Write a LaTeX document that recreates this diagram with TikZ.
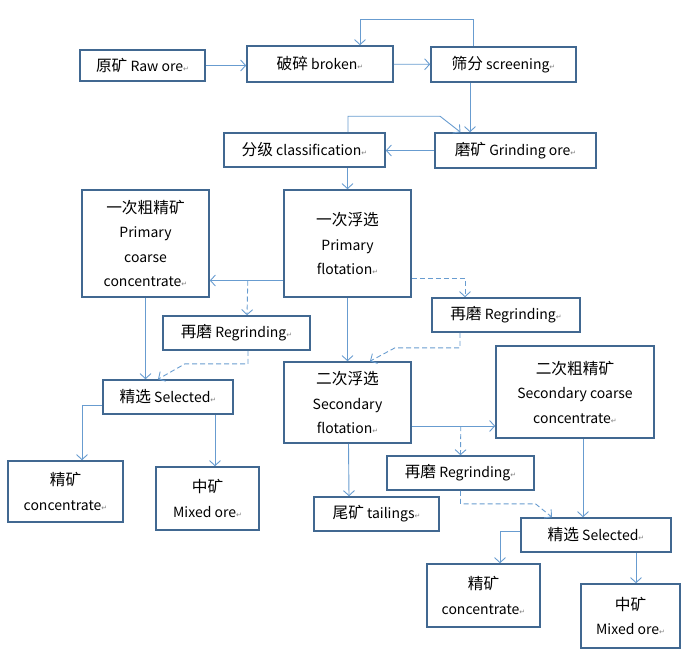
\documentclass[tikz,border=0pt]{standalone}
\usepackage{fontspec}
\setmainfont{Noto Sans CJK SC}
\newfontfamily\zhfont{Noto Sans CJK SC}[Scale=1.12]
\newfontfamily\symfont{DejaVu Sans}
\usepackage{xcolor}
\usetikzlibrary{positioning,calc,arrows.meta}
\definecolor{boxline}{RGB}{65,104,145}
\definecolor{flowline}{RGB}{104,156,208}
\newcommand{\zh}[1]{{\zhfont #1}}
\newcommand{\pmark}{{\symfont\fontsize{7}{7}\selectfont\color{gray}↵}}

\begin{document}
\begin{tikzpicture}[x=1pt,y=-1pt,
	box/.style={draw=boxline,line width=1.6pt,inner sep=2pt,align=center,font=\fontsize{14}{24.5}\selectfont},
	flow/.style={draw=flowline,line width=0.9pt,-{Straight Barb[length=5pt,width=11pt]}},
	reflow/.style={flow,dash pattern=on 5pt off 3pt}]
		\useasboundingbox (0,0) rectangle (700,659);
		\node[box,minimum width=125pt,minimum height=31pt] (raw) at (142.5,65.5) {\zh{原矿} Raw ore\pmark};
		\node[box,minimum width=146pt,minimum height=36pt] (broken) at (320,64) {\zh{破碎} broken\pmark};
		\node[box,minimum width=145pt,minimum height=35pt] (screen) at (503.5,64.5) {\zh{筛分} screening\pmark};
		\node[box,minimum width=161pt,minimum height=35pt] (grind) at (515.5,150.5) {\zh{磨矿} Grinding ore\pmark};
		\node[box,minimum width=161pt,minimum height=34pt] (classif) at (304.5,150) {\zh{分级} classification\pmark};
		\node[box,minimum width=127pt,minimum height=107pt] (pflot) at (347.5,243.5) {\zh{一次浮选}\\Primary\\flotation\pmark};
		\node[box,minimum width=127pt,minimum height=107pt] (pcc) at (145.5,243.5) {\zh{一次粗精矿}\\Primary\\coarse\\concentrate\pmark};
		\node[box,minimum width=147pt,minimum height=34pt] (regr1) at (236.5,333) {\zh{再磨} Regrinding\pmark};
		\node[box,minimum width=130pt,minimum height=34pt] (sel1) at (168,397) {\zh{精选} Selected\pmark};
		\node[box,minimum width=115pt,minimum height=61pt] (conc1) at (65.5,491.5) {\zh{精矿}\\concentrate\pmark};
		\node[box,minimum width=103pt,minimum height=63pt] (mix1) at (207.5,498.5) {\zh{中矿}\\Mixed ore\pmark};
		\node[box,minimum width=148pt,minimum height=34pt] (regr2) at (506,315) {\zh{再磨} Regrinding\pmark};
		\node[box,minimum width=127pt,minimum height=81pt] (sflot) at (347.5,402.5) {\zh{二次浮选}\\Secondary\\flotation\pmark};
		\node[box,minimum width=158pt,minimum height=92pt] (scc) at (575,392) {\zh{二次粗精矿}\\Secondary coarse\\concentrate\pmark};
		\node[box,minimum width=147pt,minimum height=34pt] (regr3) at (460.5,473) {\zh{再磨} Regrinding\pmark};
		\node[box,minimum width=125pt,minimum height=34pt] (tail) at (376.5,514) {\zh{尾矿} tailings\pmark};
		\node[box,minimum width=150pt,minimum height=34pt] (sel2) at (596,535) {\zh{精选} Selected\pmark};
		\node[box,minimum width=113pt,minimum height=63pt] (conc2) at (483.5,595.5) {\zh{精矿}\\concentrate\pmark};
		\node[box,minimum width=99pt,minimum height=64pt] (mix2) at (630.5,616) {\zh{中矿}\\Mixed ore\pmark};

		\draw[flow] (raw.east) -- (raw.east -| broken.west);
		\draw[flow] (broken) -- (screen);
		\draw[flow] ($(screen.north)+(-30,0)$) -- ++(0,-27) -| ($(broken.north)+(40,0)$);
		\draw[flow] ($(screen.south)+(-33.5,0)$) -- ($(grind.north)+(-45.5,0)$);
		\draw[flow] (grind.west) -- (grind.west -| classif.east);
		\draw[flow] ($(classif.north)+(43.5,0)$) -- ++(0,-16) -- ++(92,0) -- ($(grind.north)+(-55,0)$);
		\draw[flow] ($(classif.south)+(43,0)$) -- (pflot.north);
		\draw[flow] ($(pflot.west)+(0,37)$) -- ($(pcc.east)+(0,37)$);
		\draw[reflow] ($(pcc.east)+(38,37)$) -- ($(regr1.north)+(10.5,0)$);
		\draw[flow] (pcc.south) -- (pcc.south |- sel1.north);
		\draw[reflow] ($(regr1.south)+(11.5,0)$) -- ++(0,13) -- ++(-63,0) -- ($(sel1.north)+(-10,0)$);
		\draw[flow] ($(sel1.west)+(0,8)$) -| ($(conc1.north)+(16.5,0)$);
		\draw[flow] ($(sel1.south)+(47,0)$) -- ($(mix1.north)+(7.5,0)$);
		\draw[flow] (pflot) -- (sflot);
		\draw[reflow] ($(pflot.east)+(0,34.5)$) -| ($(regr2.north)+(-41,0)$);
		\draw[reflow] ($(regr2.south)+(-46,0)$) -- ++(0,15) -- ++(-65,0) -- ($(sflot.north)+(22.5,0)$);
		\draw[flow] ($(sflot.east)+(0,23.5)$) -- ($(scc.west)+(0,34)$);
		\draw[reflow] ($(sflot.east)+(49,23.5)$) -- (regr3.north);
		\draw[flow] ($(sflot.south)+(1,0)$) -- ($(tail.north)+(-27.5,0)$);
		\draw[reflow] (regr3.south) -- ++(0,13) -- ++(75,0) -- ($(sel2.north)+(-44,0)$);
		\draw[flow] ($(scc.south)+(8,0)$) -- ($(sel2.north)+(-13,0)$);
		\draw[flow] ($(sel2.west)+(0,-4)$) -| ($(conc2.north)+(16.5,0)$);
		\draw[flow] ($(sel2.south)+(40,0)$) -- ($(mix2.north)+(5.5,0)$);
\end{tikzpicture}
\end{document}
